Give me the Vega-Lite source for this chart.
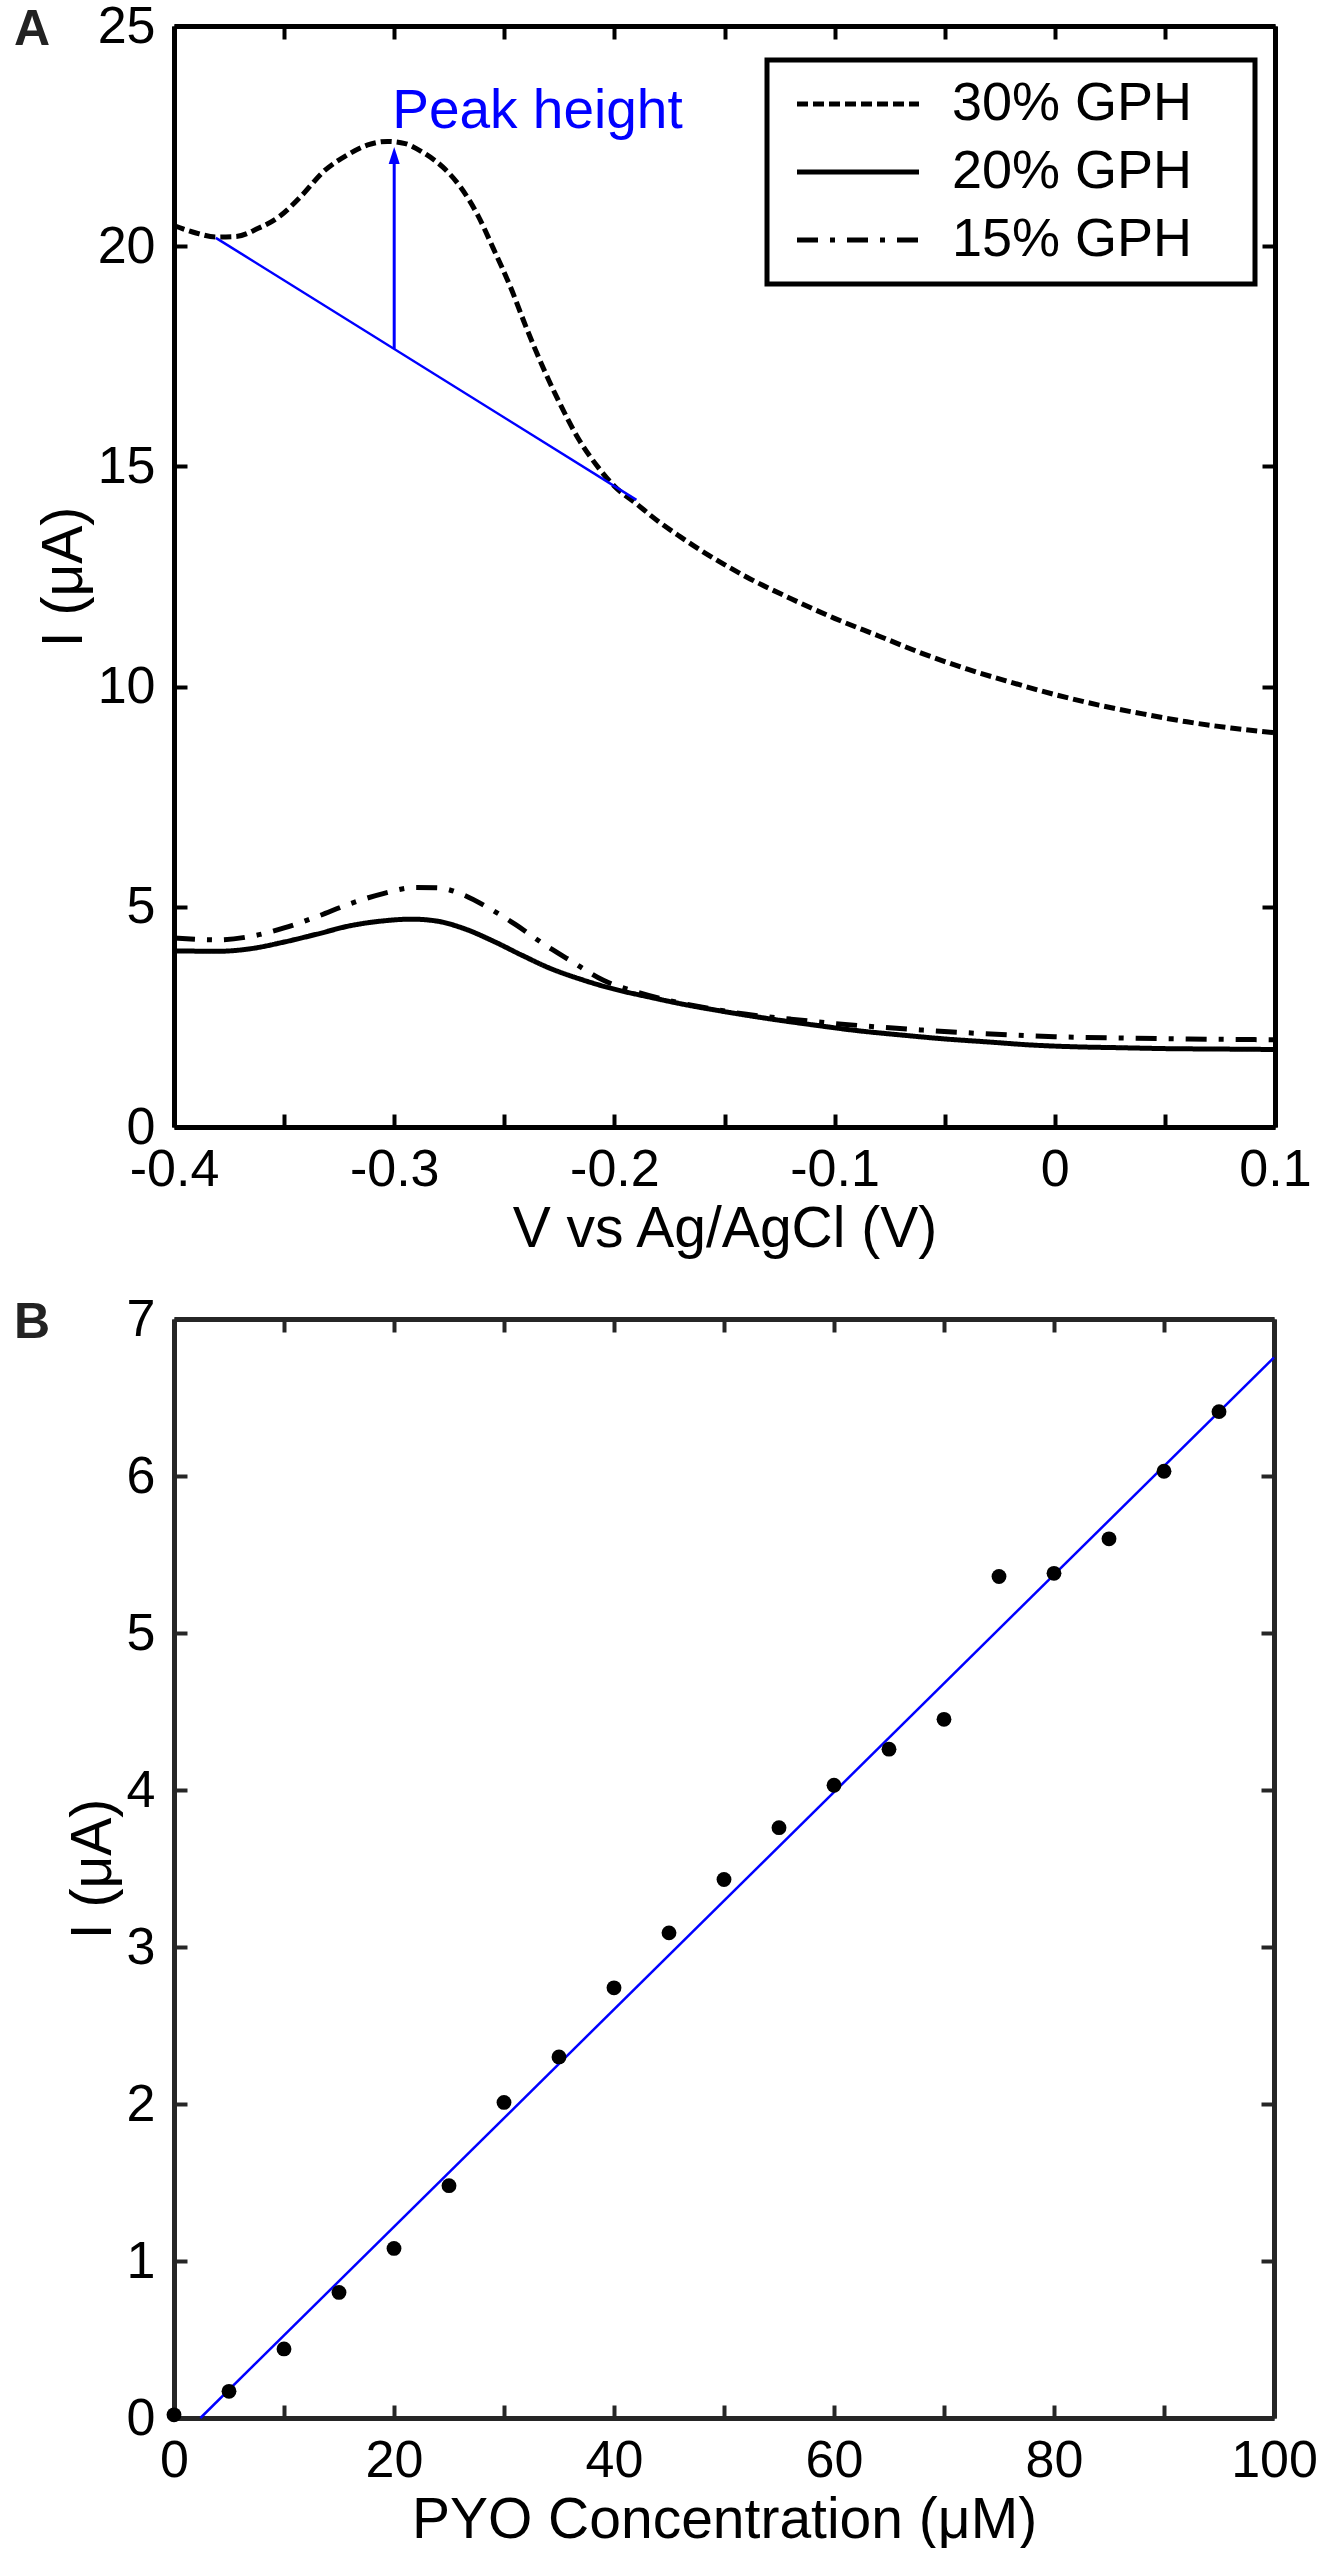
{
  "$schema": "https://vega.github.io/schema/vega-lite/v6.json",
  "background": "white",
  "padding": {"left": 14, "top": 0, "right": 10, "bottom": 0},
  "spacing": 36,
  "datasets": {
    "cv": [
      {"v": -0.400, "i": 20.47, "series": "30% GPH"},
      {"v": -0.390, "i": 20.30, "series": "30% GPH"},
      {"v": -0.381, "i": 20.21, "series": "30% GPH"},
      {"v": -0.372, "i": 20.22, "series": "30% GPH"},
      {"v": -0.362, "i": 20.40, "series": "30% GPH"},
      {"v": -0.352, "i": 20.68, "series": "30% GPH"},
      {"v": -0.342, "i": 21.15, "series": "30% GPH"},
      {"v": -0.332, "i": 21.70, "series": "30% GPH"},
      {"v": -0.322, "i": 22.05, "series": "30% GPH"},
      {"v": -0.312, "i": 22.30, "series": "30% GPH"},
      {"v": -0.303, "i": 22.38, "series": "30% GPH"},
      {"v": -0.295, "i": 22.33, "series": "30% GPH"},
      {"v": -0.287, "i": 22.13, "series": "30% GPH"},
      {"v": -0.278, "i": 21.80, "series": "30% GPH"},
      {"v": -0.270, "i": 21.35, "series": "30% GPH"},
      {"v": -0.262, "i": 20.70, "series": "30% GPH"},
      {"v": -0.255, "i": 19.95, "series": "30% GPH"},
      {"v": -0.247, "i": 19.05, "series": "30% GPH"},
      {"v": -0.240, "i": 18.15, "series": "30% GPH"},
      {"v": -0.232, "i": 17.20, "series": "30% GPH"},
      {"v": -0.224, "i": 16.35, "series": "30% GPH"},
      {"v": -0.216, "i": 15.60, "series": "30% GPH"},
      {"v": -0.208, "i": 15.02, "series": "30% GPH"},
      {"v": -0.200, "i": 14.55, "series": "30% GPH"},
      {"v": -0.190, "i": 14.15, "series": "30% GPH"},
      {"v": -0.180, "i": 13.75, "series": "30% GPH"},
      {"v": -0.170, "i": 13.40, "series": "30% GPH"},
      {"v": -0.160, "i": 13.07, "series": "30% GPH"},
      {"v": -0.150, "i": 12.77, "series": "30% GPH"},
      {"v": -0.140, "i": 12.49, "series": "30% GPH"},
      {"v": -0.120, "i": 12.00, "series": "30% GPH"},
      {"v": -0.100, "i": 11.55, "series": "30% GPH"},
      {"v": -0.080, "i": 11.15, "series": "30% GPH"},
      {"v": -0.060, "i": 10.75, "series": "30% GPH"},
      {"v": -0.040, "i": 10.40, "series": "30% GPH"},
      {"v": -0.020, "i": 10.10, "series": "30% GPH"},
      {"v": 0.000, "i": 9.82, "series": "30% GPH"},
      {"v": 0.020, "i": 9.58, "series": "30% GPH"},
      {"v": 0.040, "i": 9.38, "series": "30% GPH"},
      {"v": 0.060, "i": 9.20, "series": "30% GPH"},
      {"v": 0.080, "i": 9.06, "series": "30% GPH"},
      {"v": 0.100, "i": 8.95, "series": "30% GPH"},

      {"v": -0.400, "i": 4.00, "series": "20% GPH"},
      {"v": -0.380, "i": 3.99, "series": "20% GPH"},
      {"v": -0.365, "i": 4.05, "series": "20% GPH"},
      {"v": -0.350, "i": 4.20, "series": "20% GPH"},
      {"v": -0.335, "i": 4.38, "series": "20% GPH"},
      {"v": -0.320, "i": 4.57, "series": "20% GPH"},
      {"v": -0.305, "i": 4.68, "series": "20% GPH"},
      {"v": -0.292, "i": 4.72, "series": "20% GPH"},
      {"v": -0.280, "i": 4.67, "series": "20% GPH"},
      {"v": -0.268, "i": 4.50, "series": "20% GPH"},
      {"v": -0.255, "i": 4.22, "series": "20% GPH"},
      {"v": -0.242, "i": 3.90, "series": "20% GPH"},
      {"v": -0.230, "i": 3.62, "series": "20% GPH"},
      {"v": -0.215, "i": 3.35, "series": "20% GPH"},
      {"v": -0.200, "i": 3.13, "series": "20% GPH"},
      {"v": -0.185, "i": 2.96, "series": "20% GPH"},
      {"v": -0.170, "i": 2.80, "series": "20% GPH"},
      {"v": -0.150, "i": 2.62, "series": "20% GPH"},
      {"v": -0.130, "i": 2.46, "series": "20% GPH"},
      {"v": -0.110, "i": 2.32, "series": "20% GPH"},
      {"v": -0.090, "i": 2.19, "series": "20% GPH"},
      {"v": -0.070, "i": 2.09, "series": "20% GPH"},
      {"v": -0.050, "i": 2.00, "series": "20% GPH"},
      {"v": -0.030, "i": 1.93, "series": "20% GPH"},
      {"v": -0.010, "i": 1.86, "series": "20% GPH"},
      {"v": 0.010, "i": 1.82, "series": "20% GPH"},
      {"v": 0.030, "i": 1.80, "series": "20% GPH"},
      {"v": 0.050, "i": 1.78, "series": "20% GPH"},
      {"v": 0.075, "i": 1.77, "series": "20% GPH"},
      {"v": 0.100, "i": 1.76, "series": "20% GPH"},

      {"v": -0.400, "i": 4.29, "series": "15% GPH"},
      {"v": -0.380, "i": 4.25, "series": "15% GPH"},
      {"v": -0.365, "i": 4.33, "series": "15% GPH"},
      {"v": -0.350, "i": 4.52, "series": "15% GPH"},
      {"v": -0.335, "i": 4.78, "series": "15% GPH"},
      {"v": -0.320, "i": 5.07, "series": "15% GPH"},
      {"v": -0.305, "i": 5.30, "series": "15% GPH"},
      {"v": -0.290, "i": 5.44, "series": "15% GPH"},
      {"v": -0.280, "i": 5.43, "series": "15% GPH"},
      {"v": -0.270, "i": 5.30, "series": "15% GPH"},
      {"v": -0.258, "i": 5.00, "series": "15% GPH"},
      {"v": -0.245, "i": 4.60, "series": "15% GPH"},
      {"v": -0.232, "i": 4.15, "series": "15% GPH"},
      {"v": -0.220, "i": 3.78, "series": "15% GPH"},
      {"v": -0.205, "i": 3.33, "series": "15% GPH"},
      {"v": -0.190, "i": 3.07, "series": "15% GPH"},
      {"v": -0.175, "i": 2.87, "series": "15% GPH"},
      {"v": -0.160, "i": 2.72, "series": "15% GPH"},
      {"v": -0.140, "i": 2.56, "series": "15% GPH"},
      {"v": -0.120, "i": 2.45, "series": "15% GPH"},
      {"v": -0.100, "i": 2.35, "series": "15% GPH"},
      {"v": -0.080, "i": 2.27, "series": "15% GPH"},
      {"v": -0.060, "i": 2.20, "series": "15% GPH"},
      {"v": -0.040, "i": 2.14, "series": "15% GPH"},
      {"v": -0.020, "i": 2.09, "series": "15% GPH"},
      {"v": 0.000, "i": 2.05, "series": "15% GPH"},
      {"v": 0.030, "i": 2.02, "series": "15% GPH"},
      {"v": 0.060, "i": 2.00, "series": "15% GPH"},
      {"v": 0.100, "i": 1.98, "series": "15% GPH"}
    ],
    "tangent": [
      {"v": -0.381, "i": 20.19},
      {"v": -0.190, "i": 14.24}
    ],
    "arrow": [
      {"v": -0.300, "base": 17.67, "top": 21.95, "head": 22.06, "label": "Peak height", "labelY": 22.68}
    ],
    "pyo": [
      {"c": 0, "i": 0.02},
      {"c": 5, "i": 0.17},
      {"c": 10, "i": 0.44},
      {"c": 15, "i": 0.80},
      {"c": 20, "i": 1.08},
      {"c": 25, "i": 1.48},
      {"c": 30, "i": 2.01},
      {"c": 35, "i": 2.30},
      {"c": 40, "i": 2.74},
      {"c": 45, "i": 3.09},
      {"c": 50, "i": 3.43},
      {"c": 55, "i": 3.76},
      {"c": 60, "i": 4.03},
      {"c": 65, "i": 4.26},
      {"c": 70, "i": 4.45},
      {"c": 75, "i": 5.36},
      {"c": 80, "i": 5.38},
      {"c": 85, "i": 5.60},
      {"c": 90, "i": 6.03},
      {"c": 95, "i": 6.41}
    ],
    "fit": [
      {"c": 2.4, "i": 0},
      {"c": 100, "i": 6.755}
    ]
  },
  "vconcat": [
    {
      "width": 1101,
      "height": 1101,
      "title": {"text": "A", "anchor": "start", "frame": "group", "dx": -160, "offset": -55},
      "layer": [
        {
          "data": {"name": "cv"},
          "mark": {"type": "line", "strokeWidth": 5, "color": "black", "strokeCap": "butt", "interpolate": "monotone"},
          "encoding": {
            "x": {
              "field": "v", "type": "quantitative",
              "scale": {"domain": [-0.4, 0.1], "nice": false, "zero": false},
              "axis": {
                "orient": "bottom", "title": "V vs Ag/AgCl (V)",
                "values": [-0.4, -0.35, -0.3, -0.25, -0.2, -0.15, -0.1, -0.05, 0, 0.05, 0.1],
                "labelExpr": "round(datum.value * 100) % 10 == 0 ? (datum.value < -0.001 ? '-' : '') + format(abs(datum.value), '~g') : ''"
              }
            },
            "y": {
              "field": "i", "type": "quantitative",
              "scale": {"domain": [0, 25], "nice": false},
              "axis": {"orient": "left", "title": "I (μA)", "values": [0, 5, 10, 15, 20, 25]}
            },
            "strokeDash": {
              "field": "series", "type": "nominal",
              "scale": {"domain": ["30% GPH", "20% GPH", "15% GPH"], "range": [[11, 5], [1, 0], [21, 12, 5, 12]]},
              "legend": {
                "orient": "none", "legendX": 593, "legendY": 34, "title": null,
                "symbolType": "M-0.7,0H5.4M20.85,0", "symbolSize": 1600, "symbolStrokeWidth": 5,
                "symbolStrokeColor": "black", "symbolFillColor": "transparent",
                "labelFontSize": 54, "labelOffset": 114, "labelColor": "black", "labelLimit": 0,
                "padding": 17, "rowPadding": 14,
                "strokeColor": "black", "fillColor": "white",
                "encode": {"legend": {"update": {"strokeWidth": {"value": 5}}}}
              }
            }
          }
        },
        {
          "data": {"name": "tangent"},
          "mark": {"type": "line", "strokeWidth": 2.5, "color": "#0000ff"},
          "encoding": {
            "x": {"field": "v", "type": "quantitative", "axis": {"orient": "top", "labels": false, "title": null, "values": [-0.4, -0.35, -0.3, -0.25, -0.2, -0.15, -0.1, -0.05, 0, 0.05, 0.1]}},
            "y": {"field": "i", "type": "quantitative", "axis": {"orient": "right", "labels": false, "title": null, "values": [0, 5, 10, 15, 20, 25]}}
          }
        },
        {
          "data": {"name": "arrow"},
          "mark": {"type": "rule", "strokeWidth": 3, "color": "#0000ff"},
          "encoding": {
            "x": {"field": "v", "type": "quantitative", "axis": null},
            "y": {"field": "base", "type": "quantitative", "axis": null},
            "y2": {"field": "top"}
          }
        },
        {
          "data": {"name": "arrow"},
          "mark": {"type": "point", "shape": "M0,-1L0.65,1L-0.65,1Z", "size": 289, "filled": true, "color": "#0000ff", "opacity": 1, "strokeWidth": 0},
          "encoding": {
            "x": {"field": "v", "type": "quantitative", "axis": null},
            "y": {"field": "head", "type": "quantitative", "axis": null}
          }
        },
        {
          "data": {"name": "arrow"},
          "mark": {"type": "text", "align": "left", "baseline": "alphabetic", "fontSize": 55, "color": "#0000ff", "dx": -2},
          "encoding": {
            "x": {"field": "v", "type": "quantitative", "axis": null},
            "y": {"field": "labelY", "type": "quantitative", "axis": null},
            "text": {"field": "label"}
          }
        }
      ],
      "resolve": {"axis": {"x": "independent", "y": "independent"}}
    },
    {
      "width": 1100,
      "height": 1099,
      "title": {"text": "B", "anchor": "start", "frame": "group", "dx": -160, "offset": -55},
      "layer": [
        {
          "data": {"name": "fit"},
          "mark": {"type": "line", "strokeWidth": 2.5, "color": "#0000ff"},
          "encoding": {
            "x": {
              "field": "c", "type": "quantitative",
              "scale": {"domain": [0, 100], "nice": false},
              "axis": {"orient": "top", "labels": false, "title": null, "values": [0, 10, 20, 30, 40, 50, 60, 70, 80, 90, 100], "domainColor": "#262626", "tickColor": "#262626"}
            },
            "y": {
              "field": "i", "type": "quantitative",
              "scale": {"domain": [0, 7], "nice": false},
              "axis": {"orient": "right", "labels": false, "title": null, "values": [0, 1, 2, 3, 4, 5, 6, 7], "domainColor": "#262626", "tickColor": "#262626"}
            }
          }
        },
        {
          "data": {"name": "pyo"},
          "mark": {"type": "circle", "size": 220, "color": "black", "opacity": 1, "clip": false},
          "encoding": {
            "x": {
              "field": "c", "type": "quantitative",
              "axis": {
                "orient": "bottom", "title": "PYO Concentration (μM)",
                "values": [0, 10, 20, 30, 40, 50, 60, 70, 80, 90, 100],
                "labelExpr": "datum.value % 20 == 0 ? datum.label : ''",
                "domainColor": "#262626", "tickColor": "#262626"
              }
            },
            "y": {
              "field": "i", "type": "quantitative",
              "axis": {"orient": "left", "title": "I (μA)", "values": [0, 1, 2, 3, 4, 5, 6, 7], "domainColor": "#262626", "tickColor": "#262626"}
            }
          }
        }
      ],
      "resolve": {"axis": {"x": "independent", "y": "independent"}}
    }
  ],
  "config": {
    "font": "Liberation Sans",
    "view": {"stroke": null},
    "axis": {
      "grid": false,
      "domainColor": "black",
      "domainWidth": 5,
      "tickColor": "black",
      "tickWidth": 4,
      "tickSize": -13,
      "labelFont": "Liberation Sans",
      "labelFontSize": 52,
      "labelColor": "black",
      "labelPadding": 30,
      "labelOverlap": false,
      "labelFlush": false,
      "labelBound": false,
      "titleFont": "Liberation Sans",
      "titleFontSize": 57,
      "titleFontWeight": "normal",
      "titleColor": "black",
      "titlePadding": 10
    },
    "axisLeft": {"labelPadding": 32, "titlePadding": 4},
    "axisBottom": {"labelPadding": 30, "titlePadding": 6},
    "legend": {"labelFont": "Liberation Sans"},
    "title": {"font": "Liberation Sans", "fontSize": 50, "fontWeight": "bold", "color": "#222222"}
  }
}
